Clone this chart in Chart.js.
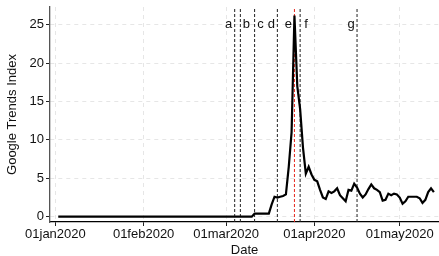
<!DOCTYPE html>
<html>
<head>
<meta charset="utf-8">
<script src="https://cdn.jsdelivr.net/npm/chart.js@4.4.1/dist/chart.umd.min.js"></script>
<style>
  html, body { margin: 0; padding: 0; background: #fff; }
  #wrap { width: 439px; height: 256px; }
</style>
</head>
<body>
<div id="wrap"><canvas id="trends-chart" width="439" height="256"></canvas></div>
<script>
// Days are counted from 01jan2020 (day 0); the series starts on day 1
const firstDay = 1;
const trendValues = [
  0, 0, 0, 0, 0, 0, 0, 0, 0, 0,
  0, 0, 0, 0, 0, 0, 0, 0, 0, 0,
  0, 0, 0, 0, 0, 0, 0, 0, 0, 0,
  0, 0, 0, 0, 0, 0, 0, 0, 0, 0,
  0, 0, 0, 0, 0, 0, 0, 0, 0, 0,
  0, 0, 0, 0, 0, 0, 0, 0, 0, 0,
  0, 0, 0, 0, 0, 0, 0, 0, 0,
  0.4, 0.4, 0.4, 0.4, 0.4, 0.4,
  1.6, 2.6, 2.5, 2.6, 2.7, 2.9, 6.5, 11, 26.2, 17,
  14, 9, 5.6, 6.5, 5.5, 4.8, 4.6, 3.5, 2.5, 2.3,
  3.3, 3.1, 3.3, 3.7, 2.8, 2.4, 2.0, 3.5, 3.4, 4.3,
  3.8, 3.0, 2.5, 2.9, 3.6, 4.2, 3.7, 3.5, 3.2, 2.1,
  2.2, 3.0, 2.8, 3.0, 2.9, 2.5, 1.7, 2.0, 2.6, 2.6,
  2.6, 2.6, 2.4, 1.8, 2.2, 3.2, 3.7, 3.2
];
const tickDays = [0, 31, 60, 91, 121];
const tickLabels = ["01jan2020", "01feb2020", "01mar2020", "01apr2020", "01may2020"];
const yTicks = [0, 5, 10, 15, 20, 25];
const eventDays = [63, 65, 70, 78, 84, 86, 106];
const eventLabels = ["a", "b", "c", "d", "e", "f", "g"];

const X_MIN = -1.9, X_MAX = 134.8;
const Y_MIN = -0.69, Y_MAX = 27.3;
const FONT = "'Liberation Sans', Arial, sans-serif";

function buildDatasets() {
  const trend = {
    data: trendValues.map((v, i) => ({ x: firstDay + i, y: v })),
    borderColor: "#000",
    borderWidth: 2.2,
    pointRadius: 0,
    tension: 0,
    order: 0,
  };
  const events = eventDays.map((d, i) => ({
    data: [{ x: d, y: Y_MIN }, { x: d, y: Y_MAX }],
    borderColor: eventLabels[i] === "e" ? "#e8281e" : "#222",
    borderWidth: 1,
    borderDash: [3, 2],
    pointRadius: 0,
    order: 1,
  }));
  return [trend, ...events];
}

// letters beside the event lines, left or right of each line
const eventLabelPlugin = {
  id: "eventLabels",
  afterDatasetsDraw(chart) {
    const { ctx, scales } = chart;
    const sides = { a: -1, b: 1, c: 1, d: -1, e: -1, f: 1, g: -1 };
    ctx.save();
    ctx.font = "13px " + FONT;
    ctx.fillStyle = "#111";
    ctx.textAlign = "center";
    ctx.textBaseline = "middle";
    const y = scales.y.getPixelForValue(25);
    eventDays.forEach((d, i) => {
      const x = scales.x.getPixelForValue(d) + sides[eventLabels[i]] * 6;
      ctx.fillText(eventLabels[i], x, y);
    });
    ctx.restore();
  },
};

function initializeChart() {
  const ctx = document.getElementById("trends-chart").getContext("2d");
  new Chart(ctx, {
    type: "line",
    data: { datasets: buildDatasets() },
    plugins: [eventLabelPlugin],
    options: {
      responsive: false,
      animation: false,
      devicePixelRatio: 1,
      layout: { padding: { top: 7, right: 0, left: 0, bottom: 0 } },
      plugins: { legend: { display: false }, tooltip: { enabled: false } },
      scales: {
        x: {
          type: "linear",
          min: X_MIN,
          max: X_MAX,
          afterBuildTicks: (scale) => {
            scale.ticks = tickDays.map((v) => ({ value: v }));
          },
          afterFit: (scale) => {
            scale.height = 34;
            scale.paddingLeft = 0;
            scale.paddingRight = 0;
          },
          ticks: {
            autoSkip: false,
            maxRotation: 0,
            padding: 1,
            color: "#111",
            font: { family: FONT, size: 13 },
            callback: (value) => tickLabels[tickDays.indexOf(value)],
          },
          grid: {
            color: "#e6e6e6",
            tickColor: "#222",
            tickLength: 4,
            tickBorderDash: [],
          },
          border: { color: "#000", width: 1.3, dash: [4, 4] },
          title: {
            display: true,
            text: "Date",
            color: "#111",
            font: { family: FONT, size: 13 },
            padding: { top: 0, bottom: -2 },
          },
        },
        y: {
          min: Y_MIN,
          max: Y_MAX,
          afterBuildTicks: (scale) => {
            scale.ticks = yTicks.map((v) => ({ value: v }));
          },
          afterFit: (scale) => {
            scale.width = 50;
            scale.paddingTop = 0;
            scale.paddingBottom = 0;
          },
          ticks: {
            padding: 2,
            color: "#111",
            font: { family: FONT, size: 13 },
          },
          grid: {
            color: "#e6e6e6",
            tickColor: "#222",
            tickLength: 4,
            tickBorderDash: [],
          },
          border: { color: "#555", width: 1.3, dash: [4, 4] },
          title: {
            display: true,
            text: "Google Trends Index",
            color: "#111",
            font: { family: FONT, size: 13 },
            padding: { top: 5, bottom: 0 },
          },
        },
      },
    },
  });
}

document.addEventListener("DOMContentLoaded", initializeChart);
</script>
</body>
</html>
